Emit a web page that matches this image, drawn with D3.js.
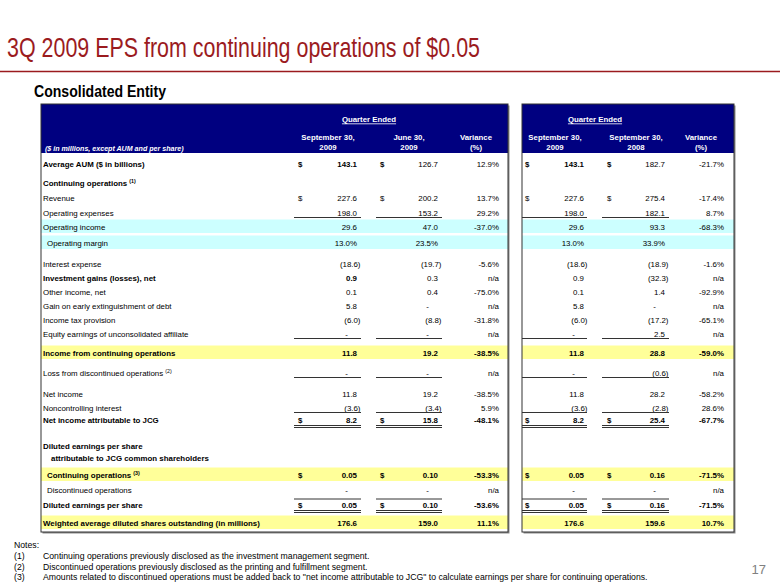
<!DOCTYPE html>
<html><head><meta charset="utf-8">
<script src="https://cdn.jsdelivr.net/npm/d3@7"></script>
<style>body{margin:0;background:#fff} svg{display:block}</style>
</head><body><svg id="c" width="780" height="585"></svg>
<script>
// ---------- DATA ----------
const titleText = "3Q 2009 EPS from continuing operations of $0.05";
const subtitleText = "Consolidated Entity";
const rowLabels = [
  "Average AUM ($ in billions)", "Continuing operations", "Revenue", "Operating expenses",
  "Operating income", "Operating margin", "Interest expense", "Investment gains (losses), net",
  "Other income, net", "Gain on early extinguishment of debt", "Income tax provision",
  "Equity earnings of unconsolidated affiliate", "Income from continuing operations",
  "Loss from discontinued operations", "Net income", "Noncontrolling interest",
  "Net income attributable to JCG", "Diluted earnings per share",
  "attributable to JCG common shareholders", "Continuing operations", "Discontinued operations",
  "Diluted earnings per share", "Weighted average diluted shares outstanding (in millions)"
];
const rowNotes = [null,"(1)",null,null,null,null,null,null,null,null,null,null,null,"(2)",null,null,null,null,null,"(3)",null,null,null];
// NaN = blank cell, null = "-" (amount) or "n/a" (variance)
const sep2009Q = [143.1, NaN, 227.6, 198.0, 29.6, 13.0, -18.6, 0.9, 0.1, 5.8, -6.0, null, 11.8, null, 11.8, -3.6, 8.2, NaN, NaN, 0.05, null, 0.05, 176.6];
const jun2009  = [126.7, NaN, 200.2, 153.2, 47.0, 23.5, -19.7, 0.3, 0.4, null, -8.8, null, 19.2, null, 19.2, -3.4, 15.8, NaN, NaN, 0.10, null, 0.10, 159.0];
const varQ     = [12.9, NaN, 13.7, 29.2, -37.0, NaN, -5.6, null, -75.0, null, -31.8, null, -38.5, null, -38.5, 5.9, -48.1, NaN, NaN, -53.3, null, -53.6, 11.1];
const sep2009Y = [143.1, NaN, 227.6, 198.0, 29.6, 13.0, -18.6, 0.9, 0.1, 5.8, -6.0, null, 11.8, null, 11.8, -3.6, 8.2, NaN, NaN, 0.05, null, 0.05, 176.6];
const sep2008  = [182.7, NaN, 275.4, 182.1, 93.3, 33.9, -18.9, -32.3, 1.4, null, -17.2, 2.5, 28.8, -0.6, 28.2, -2.8, 25.4, NaN, NaN, 0.16, null, 0.16, 159.6];
const varY     = [-21.7, NaN, -17.4, 8.7, -68.3, NaN, -1.6, null, -92.9, null, -65.1, null, -59.0, null, -58.2, 28.6, -67.7, NaN, NaN, -71.5, null, -71.5, 10.7];
const colHeads = [["September 30,","2009"],["June 30,","2009"],["Variance","(%)"],["September 30,","2009"],["September 30,","2008"],["Variance","(%)"]];
const groupHead = "Quarter Ended";
const unitNote = "($ in millions, except AUM and per share)";
const notes = [
  ["(1)","Continuing operations previously disclosed as the investment management segment."],
  ["(2)","Discontinued operations previously disclosed as the printing and fulfillment segment."],
  ["(3)","Amounts related to discontinued operations must be added back to \"net income attributable to JCG\" to calculate earnings per share for continuing operations."]
];
const pageNumber = "17";

// ---------- STYLE / LAYOUT ----------
const boldLabel = new Set([0,1,7,12,16,17,18,19,21,22]);
const boldRowVals = new Set([12,16,19,21,22]);
const boldCells = {0:[0,3], 7:[0]};
const indentRows = {5:4, 18:8, 19:4, 20:4};
const bandRows = {4:"#CCFFFF", 5:"#CCFFFF", 12:"#FFFF99", 19:"#FFFF99", 22:"#FFFF99"};
const dollarRows = new Set([0,2,16,19,21]);
const singleUnder = new Set([3,11,13,15]);
const doubleUnder = new Set([16,21]);
const topLine = new Set([21]);
const pctRows = new Set([5]);
const epsRows = new Set([19,20,21]);
const rowGaps = [0,19,15,15,14,16,21,14,14,14,14,14,19,20,21,14,12,26,12,17,15,15,18];

const FONT = "'Liberation Sans', Arial, Helvetica, sans-serif";
const RED = "#9B1B1E", NAVY = "#000080";
const FS = 7.9, HFS = 7.8;
const loc = d3.formatLocale({decimal:".", thousands:",", grouping:[3], currency:["$",""], minus:"-"});

const svg = d3.select("#c");
svg.append("rect").attr("width",780).attr("height",585).attr("fill","#fff");

// title
svg.append("text").attr("x",7).attr("y",57).attr("fill",RED)
  .attr("font-family",FONT).attr("font-size",27.5)
  .attr("textLength",473).attr("lengthAdjust","spacingAndGlyphs").text(titleText);
svg.append("line").attr("x1",0).attr("x2",780).attr("y1",71.5).attr("y2",71.5)
  .attr("stroke",RED).attr("stroke-width",1.6);
svg.append("text").attr("x",34).attr("y",97).attr("fill","#000")
  .attr("font-family",FONT).attr("font-weight","bold").attr("font-size",16)
  .attr("textLength",132).attr("lengthAdjust","spacingAndGlyphs").text(subtitleText);

// row y scale
const rowY = []; rowGaps.reduce((acc,g,i)=>{rowY[i]=acc+g; return acc+g;}, 0);
const y = d3.scaleLinear().domain([0, rowY[rowY.length-1]]).range([164, 164 + rowY[rowY.length-1]]);
const yRow = i => y(rowY[i]);

// columns: right edges
const colRight = d3.scaleOrdinal().domain([0,1,2,3,4,5]).range([357,438,499,584,665,724]);
const dollarX = d3.scaleOrdinal().domain([0,1,3,4]).range([298,380,525,607]);
const ulSpan = d3.scaleOrdinal().domain([0,1,3,4]).range([[294,361],[376,442],[522,587],[602,669]]);
const panels = [{x0:41,x1:508,cols:[0,1,2]},{x0:522,x1:734,cols:[3,4,5]}];
const series = [sep2009Q, jun2009, varQ, sep2009Y, sep2008, varY];
const isVar = c => c===2 || c===5;

const fmtAmt = (v,i) => {
  if (v === null) return "-";
  if (Number.isNaN(v)) return "";
  if (pctRows.has(i)) return loc.format(".1f")(v) + "%";
  const d = epsRows.has(i) ? 2 : 1;
  const s = loc.format("." + d + "f")(Math.abs(v));
  return v < 0 ? "(" + s + ")" : s;
};
const fmtVar = v => v === null ? "n/a" : (Number.isNaN(v) ? "" : loc.format(".1f")(v) + "%");

// panels: shadow, background, header
panels.forEach(p => {
  svg.append("rect").attr("x",p.x0+1.5).attr("y",105.5).attr("width",p.x1-p.x0).attr("height",428)
    .attr("fill","#8a8a8a");
  svg.append("rect").attr("x",p.x0).attr("y",104).attr("width",p.x1-p.x0).attr("height",428)
    .attr("fill","#fff");
  Object.entries(bandRows).forEach(([r,col]) => {
    svg.append("rect").attr("x",p.x0).attr("y",yRow(+r)-7.5).attr("width",p.x1-p.x0).attr("height",13.5)
      .attr("fill",col);
  });
  svg.append("rect").attr("x",p.x0).attr("y",104).attr("width",p.x1-p.x0).attr("height",49).attr("fill",NAVY);
  svg.append("rect").attr("x",p.x0).attr("y",104).attr("width",p.x1-p.x0).attr("height",428)
    .attr("fill","none").attr("stroke","#333").attr("stroke-width",1);
  const gx = p.cols[0]===0 ? 369 : 595;
  const gt = svg.append("text").attr("x",gx).attr("y",122).attr("text-anchor","middle")
    .attr("fill","#fff").attr("font-family",FONT).attr("font-weight","bold").attr("font-size",HFS)
    .text(groupHead);
  const w = gt.node().getComputedTextLength();
  svg.append("line").attr("x1",gx-w/2).attr("x2",gx+w/2).attr("y1",123.8).attr("y2",123.8)
    .attr("stroke","#fff").attr("stroke-width",0.8);
  p.cols.forEach(c => {
    const cx = colRight(c) - (isVar(c) ? 23 : 29);
    colHeads[c].forEach((t,k) => {
      svg.append("text").attr("x",cx).attr("y",140 + k*10).attr("text-anchor","middle")
        .attr("fill","#fff").attr("font-family",FONT).attr("font-weight","bold").attr("font-size",HFS).text(t);
    });
  });
});
svg.append("text").attr("x",45).attr("y",151).attr("fill","#fff").attr("font-family",FONT)
  .attr("font-weight","bold").attr("font-style","italic").attr("font-size",7.1).text(unitNote);

// rows
rowLabels.forEach((lab,i) => {
  const cy = yRow(i);
  const t = svg.append("text").attr("x",43 + (indentRows[i]||0)).attr("y",cy+3)
    .attr("font-family",FONT).attr("font-size",FS).attr("fill","#000")
    .attr("font-weight", boldLabel.has(i) ? "bold" : "normal").text(lab);
  if (rowNotes[i]) {
    t.append("tspan").attr("dx",2).attr("dy",-3).attr("font-size",5.3).text(rowNotes[i]);
  }
  series.forEach((arr,c) => {
    const v = arr[i];
    const s = isVar(c) ? fmtVar(v) : fmtAmt(v,i);
    if (s === "") return;
    let x = colRight(c);
    if (!isVar(c)) {
      if (s.endsWith(")")) x += 3.5;
      else if (s === "-") x -= 9;
    }
    const bold = boldRowVals.has(i) || (boldCells[i] && boldCells[i].includes(c));
    svg.append("text").attr("x",x).attr("y",cy+3).attr("text-anchor","end")
      .attr("font-family",FONT).attr("font-size",FS).attr("fill","#000")
      .attr("font-weight", bold ? "bold" : "normal").text(s);
    if (!isVar(c) && dollarRows.has(i)) {
      svg.append("text").attr("x",dollarX(c)).attr("y",cy+3)
        .attr("font-family",FONT).attr("font-size",FS).attr("fill","#000")
        .attr("font-weight", (boldRowVals.has(i) || i===0 ? "bold" : "normal")).text("$");
    }
    if (!isVar(c)) {
      const [a,b] = ulSpan(c);
      if (singleUnder.has(i)) {
        svg.append("line").attr("x1",a).attr("x2",b).attr("y1",cy+4.5).attr("y2",cy+4.5)
          .attr("stroke","#333").attr("stroke-width",1);
      }
      if (doubleUnder.has(i)) {
        [5.5,7.5].forEach(o => svg.append("line").attr("x1",a).attr("x2",b).attr("y1",cy+o).attr("y2",cy+o)
          .attr("stroke","#333").attr("stroke-width",1));
      }
      if (topLine.has(i)) {
        svg.append("line").attr("x1",a).attr("x2",b).attr("y1",cy-6).attr("y2",cy-6)
          .attr("stroke","#333").attr("stroke-width",1);
      }
    }
  });
});

// notes
const NFS = 8.7;
svg.append("text").attr("x",14).attr("y",548).attr("font-family",FONT).attr("font-size",NFS).text("Notes:");
notes.forEach((n,k) => {
  svg.append("text").attr("x",14).attr("y",559 + k*10.5).attr("font-family",FONT).attr("font-size",NFS).text(n[0]);
  svg.append("text").attr("x",43).attr("y",559 + k*10.5).attr("font-family",FONT).attr("font-size",NFS).text(n[1]);
});
svg.append("text").attr("x",766).attr("y",574).attr("text-anchor","end").attr("font-family",FONT)
  .attr("font-size",13).attr("fill","#808080").text(pageNumber);
</script>
</body></html>
